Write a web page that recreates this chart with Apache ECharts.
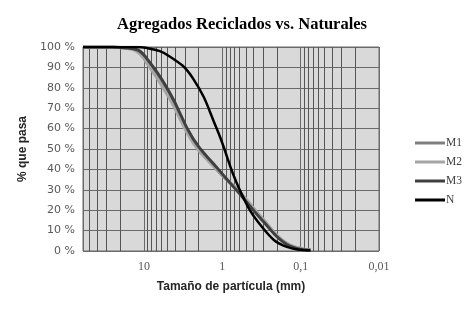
<!DOCTYPE html>
<html>
<head>
<meta charset="utf-8">
<script src="https://cdn.jsdelivr.net/npm/echarts@6/dist/echarts.min.js"></script>
<style>
  html, body { margin: 0; padding: 0; background: #fff; }
  #chart { width: 473px; height: 312px; }
</style>
</head>
<body>
<div id="chart"></div>
<script>
// sieve sizes (mm) and % passing for each mix
const sizes = [60, 37.5, 25, 19, 12.5, 9.5, 4.75, 2.36, 1.18, 0.6, 0.3, 0.15, 0.075];
const m1 = [100, 100, 100, 99.6, 98.5, 94, 77, 54, 40, 28.5, 15, 3.5, 0.5];
const m2 = [100, 100, 100, 99.5, 98, 93, 75, 53, 40, 29, 15.5, 3.8, 0.6];
const m3 = [100, 100, 100, 99.7, 98.8, 95, 78, 55, 41, 28, 14.5, 3.2, 0.4];
const nat = [100, 100, 100, 100, 100, 99.6, 95.5, 84.5, 60, 30, 11, 2, 0.3];
// minor vertical gridlines of the log axis
const minorGrid = [50, 40, 30, 20, 9, 8, 7, 6, 5, 4, 3, 2,
  0.9, 0.8, 0.7, 0.6, 0.5, 0.4, 0.3, 0.2,
  0.09, 0.08, 0.07, 0.06, 0.05, 0.04, 0.03, 0.02];

const gridColor = '#6a6a6a';
const chart = echarts.init(document.getElementById('chart'));

const pairs = (vals) => sizes.map((s, i) => [s, vals[i]]);

const lineSeries = (name, vals, color, width) => ({
  name: name,
  type: 'line',
  data: pairs(vals),
  smooth: 0.45,
  symbol: 'none',
  z: 3,
  lineStyle: { color: color, width: width },
  itemStyle: { color: color }
});

const first = lineSeries('M1', m1, '#7f7f7f', 3);
first.markLine = {
  silent: true,
  symbol: 'none',
  z: 1,
  label: { show: false },
  lineStyle: { color: '#555', width: 1, type: 'solid', opacity: 1 },
  emphasis: { disabled: true },
  data: minorGrid.map(v => ({ xAxis: v }))
};

chart.setOption({
  animation: false,
  title: {
    text: 'Agregados Reciclados vs. Naturales',
    left: 237,
    textAlign: 'center',
    top: 11,
    textStyle: { fontFamily: 'Liberation Serif', fontWeight: 'bold', fontSize: 16.5, color: '#000' }
  },
  legend: {
    orient: 'vertical',
    left: 410,
    top: 132,
    itemWidth: 30,
    itemHeight: 3,
    itemGap: 7,
    icon: 'rect',
    data: ['M1', 'M2', 'M3', 'N'],
    textStyle: { fontFamily: 'Liberation Serif', fontSize: 11.5, color: '#404040', padding: [0, 0, 0, -4] }
  },
  grid: {
    left: 83, right: 94, top: 47, bottom: 61,
    show: true,
    backgroundColor: '#d9d9d9',
    borderColor: gridColor,
    borderWidth: 1
  },
  xAxis: {
    type: 'log',
    inverse: true,
    min: 0.01,
    max: 60,
    logBase: 10,
    name: 'Tamaño de partícula (mm)',
    nameLocation: 'middle',
    nameGap: 30,
    nameTextStyle: { fontFamily: 'Liberation Sans', fontWeight: 'bold', fontSize: 12, color: '#262626' },
    axisLine: { show: false },
    axisTick: { show: false },
    axisLabel: {
      margin: 10,
      fontFamily: 'Liberation Serif',
      fontSize: 12,
      color: '#595959',
      formatter: v => (v > 20 ? '' : String(+v.toPrecision(3)).replace('.', ','))
    },
    splitLine: { show: true, lineStyle: { color: gridColor, width: 1 } }
  },
  yAxis: {
    type: 'value',
    min: 0,
    max: 100,
    interval: 10,
    name: '% que pasa',
    nameLocation: 'middle',
    nameRotate: 90,
    nameGap: 48,
    nameTextStyle: { fontFamily: 'Liberation Sans', fontWeight: 'bold', fontSize: 12, color: '#262626' },
    axisLine: { show: false },
    axisTick: { show: false },
    axisLabel: {
      margin: 8,
      fontFamily: 'DejaVu Sans',
      fontSize: 11,
      color: '#595959',
      formatter: v => v + ' %'
    },
    splitLine: { show: true, lineStyle: { color: gridColor, width: 1 } }
  },
  series: [
    first,
    lineSeries('M2', m2, '#a5a5a5', 3),
    lineSeries('M3', m3, '#3f3f3f', 3),
    lineSeries('N', nat, '#000000', 2.5)
  ]
});
</script>
</body>
</html>
